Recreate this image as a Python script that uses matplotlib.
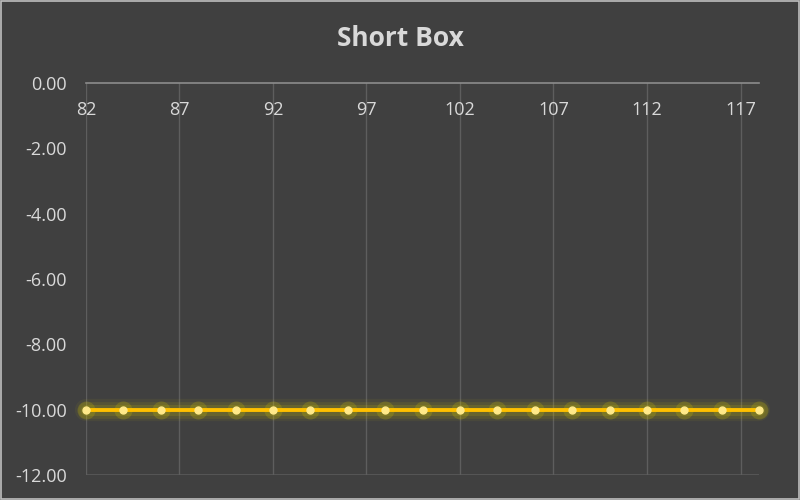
import matplotlib
matplotlib.use("Agg")
import matplotlib.pyplot as plt

BG = "#404040"
TEXT = "#D9D9D9"
GRID = "#5E5E5E"
AXIS = "#8C8C8C"
GOLD = "#FFC000"

x_vals = [82, 84, 86, 88, 90, 92, 94, 96, 98, 100, 102, 104, 106, 108, 110, 112, 114, 116, 118]
y_vals = [-10.0, -10.0, -10.0, -10.0, -10.0, -10.0, -10.0, -10.0, -10.0, -10.0,
          -10.0, -10.0, -10.0, -10.0, -10.0, -10.0, -10.0, -10.0, -10.0]
x_ticks = [82, 87, 92, 97, 102, 107, 112, 117]
y_ticks = [0, -2, -4, -6, -8, -10, -12]

plt.rcParams["font.family"] = ["Open Sans", "DejaVu Sans"]

fig = plt.figure(figsize=(8, 5), dpi=100, facecolor=BG)
ax = fig.add_axes([0.1075, 0.05, 0.8415, 0.784])
ax.set_facecolor(BG)

# glow layers
for lw, a in [(16, 0.06), (12, 0.09), (8, 0.13)]:
    ax.plot(x_vals, y_vals, color="#E0D000", linewidth=lw, alpha=a,
            solid_capstyle="round", zorder=3, clip_on=False)
ax.plot(x_vals, y_vals, linestyle="none", marker="o", markersize=13,
        color="#CFC000", alpha=0.22, markeredgewidth=0, zorder=3, clip_on=False)
ax.plot(x_vals, y_vals, color=GOLD, linewidth=2.8, zorder=4, clip_on=False)
ax.plot(x_vals, y_vals, linestyle="none", marker="o", markersize=5,
        markerfacecolor="#FFE98A", markeredgecolor="#FFE98A", zorder=5, clip_on=False)

ax.set_xlim(82, 118)
ax.set_ylim(-12, 0)
ax.set_xticks(x_ticks)
ax.set_yticks(y_ticks)
ax.set_yticklabels([f"{v:.2f}" for v in y_ticks])

ax.grid(axis="x", color=GRID, linewidth=1)
ax.axhline(-12, color="#555555", linewidth=1.5, zorder=1)

for s in ["left", "right", "bottom"]:
    ax.spines[s].set_visible(False)
ax.spines["top"].set_color(AXIS)
ax.spines["top"].set_linewidth(1.2)

ax.tick_params(axis="x", top=True, bottom=False, labeltop=True, labelbottom=False,
               length=0, pad=-26, colors=TEXT, labelsize=13)
ax.tick_params(axis="y", length=0, pad=14, colors=TEXT, labelsize=13)

fig.text(0.5, 0.922, "Short Box", ha="center", va="center", color=TEXT,
         fontsize=19, fontweight="bold")

# thin light frame around the chart
frame = plt.Rectangle((0.0015, 0.002), 0.997, 0.996, transform=fig.transFigure,
                      fill=False, edgecolor="#BFBFBF", linewidth=1.2)
fig.patches.append(frame)

fig.savefig("out.png", dpi=100, facecolor=BG)
